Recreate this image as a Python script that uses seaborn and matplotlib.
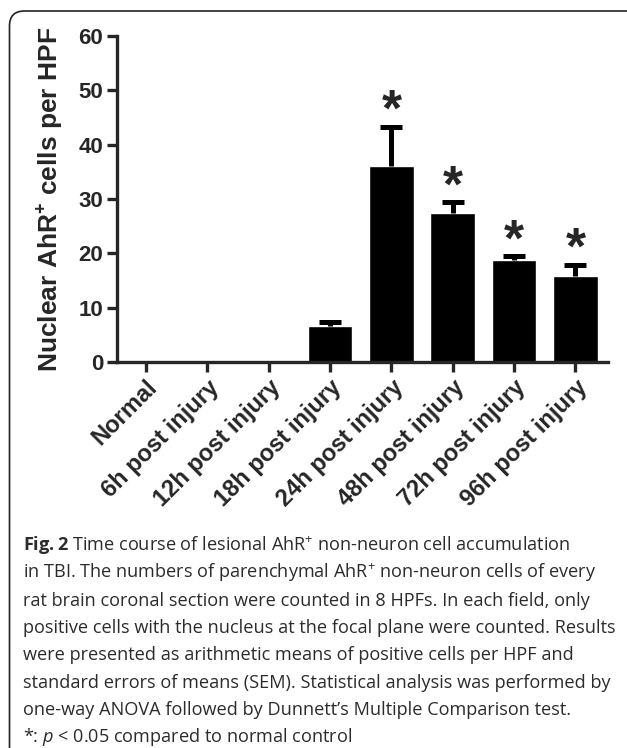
import numpy as np
import pandas as pd
import seaborn as sns
import matplotlib.pyplot as plt
from matplotlib.patches import FancyBboxPatch
from matplotlib.transforms import IdentityTransform

# values (cells per HPF, mean and SEM)
groups = ["Normal", "6h post injury", "12h post injury", "18h post injury",
          "24h post injury", "48h post injury", "72h post injury", "96h post injury"]
means = [0, 0, 0, 6.6, 36.1, 27.4, 18.8, 15.8]
sems = [0, 0, 0, 0.8, 7.2, 2.0, 0.7, 2.1]
signif = [False, False, False, False, True, True, True, True]

caption = [
    r"$\mathbf{Fig.2}$ Time course of lesional AhR$^{+}$ non-neuron cell accumulation",
    r"in TBI. The numbers of parenchymal AhR$^{+}$ non-neuron cells of every",
    "rat brain coronal section were counted in 8 HPFs. In each field, only",
    "positive cells with the nucleus at the focal plane were counted. Results",
    "were presented as arithmetic means of positive cells per HPF and",
    "standard errors of means (SEM). Statistical analysis was performed by",
    "one-way ANOVA followed by Dunnett\u2019s Multiple Comparison test.",
    r"*: $p$ < 0.05 compared to normal control",
]

sns.set_style("ticks")
plt.rcParams["font.family"] = ["Liberation Sans", "DejaVu Sans"]
plt.rcParams["mathtext.fontset"] = "custom"
plt.rcParams["mathtext.rm"] = "Open Sans"
plt.rcParams["mathtext.it"] = "Open Sans:italic"
plt.rcParams["mathtext.bf"] = "Open Sans:bold"

df = pd.DataFrame({"group": groups, "mean": means, "sem": sems})

fig = plt.figure(figsize=(6.27, 7.48), dpi=100)
ax = fig.add_axes([117 / 627, 1 - 362 / 748, (608 - 117) / 627, (362 - 36) / 748])

sns.barplot(data=df, x="group", y="mean", color="black", saturation=1,
            width=0.73, errorbar=None, ax=ax)

# upper error bars only (SEM)
has_err = df["sem"] > 0
xpos = np.arange(len(groups))[has_err]
eb = ax.errorbar(xpos, df["mean"][has_err], yerr=[np.zeros(has_err.sum()), df["sem"][has_err]],
                 fmt="none", ecolor="black", elinewidth=3.6, capsize=8, capthick=3.6)
for cap in eb[1]:
    if np.allclose(cap.get_ydata(), df["mean"][has_err]):
        cap.set_visible(False)

for i, (m, s, sig) in enumerate(zip(means, sems, signif)):
    if sig:
        ax.annotate("*", xy=(i, m + s), xytext=(0, 0.5), textcoords="offset points",
                    ha="center", va="baseline", fontsize=37, fontweight="bold")

ax.set_ylim(0, 60)
ax.set_xlim(-0.47, 7.53)
ax.set_yticks(range(0, 61, 10))
sns.despine(ax=ax)
for sp in ["left", "bottom"]:
    ax.spines[sp].set_linewidth(2.4)
ax.tick_params(length=7, width=2.4, labelsize=16, pad=3)
ax.tick_params(axis="x", labelsize=17)
for lab in ax.get_yticklabels() + ax.get_xticklabels():
    lab.set_fontweight("bold")
plt.setp(ax.get_xticklabels(), rotation=45, ha="right", rotation_mode="anchor")
ax.set_xlabel("")
ax.set_ylabel(r"Nuclear AhR$^{\mathbf{+}}$ cells per HPF", fontsize=19,
              fontweight="bold", labelpad=10)

# caption
for k, line in enumerate(caption):
    fig.text(23 / 627, 1 - (551 + 27.3 * k) / 748, line, va="baseline",
             fontsize=13.1, family="Open Sans", color="#2b2b2b")

# rounded frame, cut by the right and bottom edges
frame = FancyBboxPatch((9.5, -30), 660, 748 - 11 + 30,
                       boxstyle="round,pad=0,rounding_size=15",
                       transform=IdentityTransform(), fill=False,
                       edgecolor="#222222", linewidth=1.2)
fig.add_artist(frame)

fig.savefig("out.png", dpi=100)
